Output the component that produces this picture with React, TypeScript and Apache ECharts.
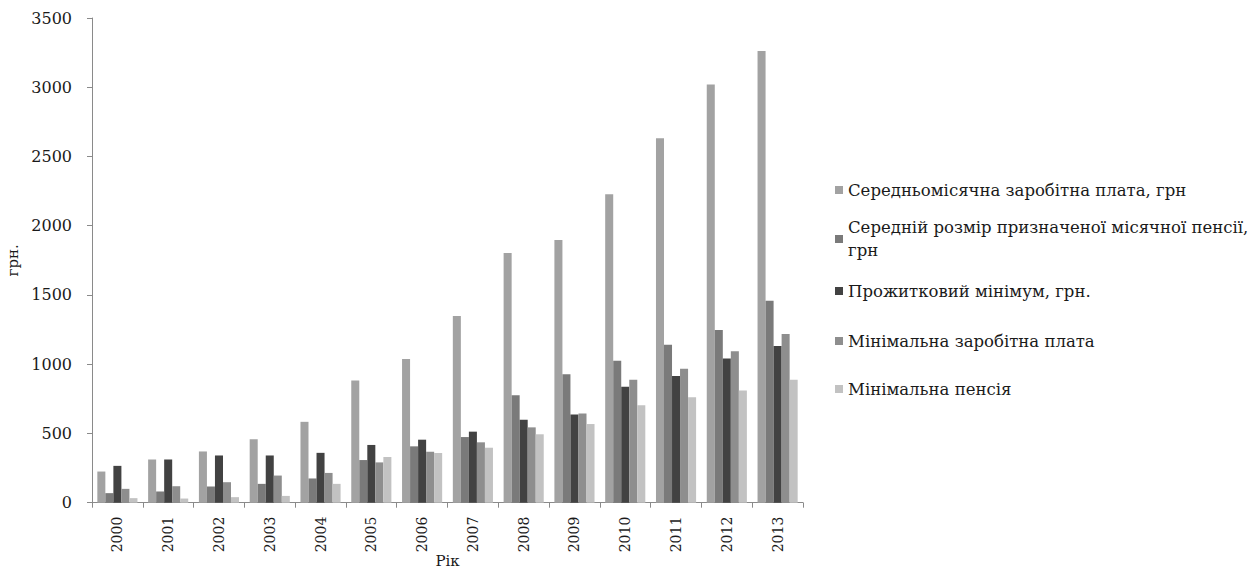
import React, { useEffect, useRef } from "react";
import * as echarts from "echarts";

const years = ["2000", "2001", "2002", "2003", "2004", "2005", "2006", "2007", "2008", "2009", "2010", "2011", "2012", "2013"];

const seriesNames = [
  "Середньомісячна заробітна плата, грн",
  "Середній розмір призначеної місячної пенсії, грн",
  "Прожитковий мінімум, грн.",
  "Мінімальна заробітна плата",
  "Мінімальна пенсія",
];

const avgWage = [225, 312, 370, 459, 584, 883, 1038, 1348, 1803, 1897, 2227, 2631, 3019, 3262];
const avgPension = [69, 81, 117, 136, 175, 308, 407, 474, 775, 927, 1025, 1141, 1247, 1459];
const subsistenceMin = [266, 312, 341, 341, 360, 417, 455, 513, 599, 636, 838, 915, 1042, 1132];
const minWage = [100, 119, 148, 196, 215, 291, 368, 436, 544, 645, 888, 968, 1093, 1218];
const minPension = [33, 30, 40, 49, 136, 330, 359, 397, 494, 568, 703, 761, 811, 888];

const seriesData = [avgWage, avgPension, subsistenceMin, minWage, minPension];
const colors = ["#a2a2a2", "#7a7a7a", "#424242", "#8e8e8e", "#c2c2c2"];

const yTicks = { min: 0, max: 3500, interval: 500 };

const legendCenters = [190, 239, 291, 341, 389];

const FONT = "DejaVu Serif";
const LH = 23;

export default function App() {
  const ref = useRef<HTMLDivElement>(null);

  useEffect(() => {
    if (!ref.current) return;
    const chart = echarts.init(ref.current, undefined, { renderer: "svg" });

    const legends = seriesNames.map((name, i) => {
      const twoLine = i === 1;
      return {
        data: [name],
        left: 835,
        top: twoLine ? legendCenters[i] - LH * 1.5 : legendCenters[i] - LH / 2,
        orient: "vertical",
        padding: 0,
        selectedMode: false,
        icon: "rect",
        itemWidth: 8,
        itemHeight: 8,
        formatter: twoLine
          ? () => "Середній розмір призначеної місячної пенсії,\nгрн"
          : undefined,
        textStyle: {
          fontFamily: FONT,
          fontSize: 16.5,
          lineHeight: LH,
          color: "#1a1a1a",
          padding: twoLine ? [LH, 0, 0, 0] : 0,
        },
      };
    });

    chart.setOption({
      animation: false,
      backgroundColor: "#ffffff",
      color: colors,
      textStyle: { fontFamily: FONT },
      legend: legends,
      grid: {
        left: 92,
        top: 18,
        width: 711,
        height: 484.7,
        containLabel: false,
        outerBoundsMode: "none",
      },
      xAxis: {
        type: "category",
        data: years,
        name: "Рік",
        nameLocation: "middle",
        nameGap: 51,
        nameMoveOverlap: false,
        nameTextStyle: { fontFamily: FONT, fontSize: 15, color: "#1a1a1a" },
        axisLine: { lineStyle: { color: "#8a8a8a", width: 1 } },
        axisTick: { show: true, length: 5, lineStyle: { color: "#8a8a8a" } },
        axisLabel: {
          rotate: 90,
          margin: 14,
          fontFamily: FONT,
          fontSize: 14,
          color: "#1a1a1a",
        },
      },
      yAxis: {
        type: "value",
        min: yTicks.min,
        max: yTicks.max,
        interval: yTicks.interval,
        name: "грн.",
        nameLocation: "middle",
        nameGap: 70,
        nameTextStyle: { fontFamily: FONT, fontSize: 15, color: "#1a1a1a" },
        axisLine: { show: true, lineStyle: { color: "#8a8a8a", width: 1 } },
        axisTick: { show: true, length: 5, lineStyle: { color: "#8a8a8a" } },
        splitLine: { show: false },
        axisLabel: {
          margin: 20,
          fontFamily: FONT,
          fontSize: 16,
          color: "#1a1a1a",
          formatter: (v: number) => String(v),
        },
      },
      series: seriesNames.map((name, i) => ({
        name,
        type: "bar",
        data: seriesData[i],
        barGap: "0%",
        barCategoryGap: "21%",
        itemStyle: { color: colors[i] },
      })),
    });

    return () => chart.dispose();
  }, []);

  return (
    <div
      ref={ref}
      style={{ position: "fixed", left: 0, top: 0, width: 1251, height: 572, background: "#fff" }}
    />
  );
}
